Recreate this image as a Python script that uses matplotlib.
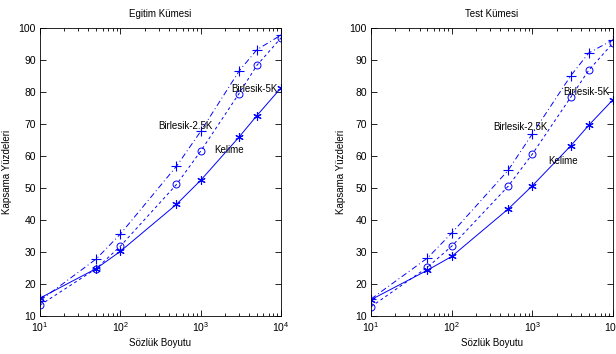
import matplotlib
matplotlib.use("Agg")
import matplotlib.pyplot as plt
from matplotlib.ticker import LogLocator, FixedLocator

plt.rcParams['font.family'] = ['Liberation Sans', 'DejaVu Sans']
plt.rcParams['mathtext.fontset'] = 'custom'
plt.rcParams['mathtext.rm'] = 'Liberation Sans'
plt.rcParams['mathtext.it'] = 'Liberation Sans'

sizes = [10, 50, 100, 500, 1000, 3000, 5000, 10000]

train_kelime = [15.6, 24.8, 30.2, 44.9, 52.4, 65.9, 72.6, 81.3]
train_b25 = [14.8, 27.8, 35.6, 56.8, 67.7, 86.5, 93.2, 97.8]
train_b5 = [13.4, 24.8, 31.8, 51.1, 61.5, 79.5, 88.3, 96.9]

test_kelime = [15.1, 24.3, 28.6, 43.4, 50.7, 63.2, 69.6, 77.6]
test_b25 = [15.3, 28.1, 35.9, 55.5, 66.9, 85.1, 92.2, 96.3]
test_b5 = [12.9, 25.2, 31.8, 50.5, 60.6, 78.4, 86.8, 95.3]

titles = ["Egitim Kümesi", "Test Kümesi"]
xlabel = "Sözlük Boyutu"
ylabel = "Kapsama Yüzdeleri"
label_texts = ["Birlesik-5K", "Birlesik-2.5K", "Kelime"]
label_pos_train = [(2390, 81.0), (300, 69.5), (1480, 61.8)]
label_pos_test = [(2420, 79.9), (328, 69.0), (1596, 58.3)]

blue = '#0000ff'
fig = plt.figure(figsize=(6.16, 3.54), dpi=100)
ax1 = fig.add_axes([40/616, 1-316/354, 241/616, 288/354])
ax2 = fig.add_axes([371/616, 1-316/354, 242/616, 288/354])

asterisk = (6, 2, 0)
for ax, title, k, b25, b5, lpos, ylx in [
        (ax1, titles[0], train_kelime, train_b25, train_b5, label_pos_train, -0.115),
        (ax2, titles[1], test_kelime, test_b25, test_b5, label_pos_test, -0.105)]:
    ax.plot(sizes, k, '-', color=blue, lw=0.7, marker=asterisk, ms=6, mew=0.8)
    ax.plot(sizes, b25, color=blue, lw=0.7, linestyle=(0, (6, 3, 1, 3)), marker='+', ms=7, mew=0.8)
    ax.plot(sizes, b5, color=blue, lw=0.7, linestyle=(0, (3, 3)), marker='o', ms=5, mew=0.7,
            mfc='none')
    ax.set_xscale('log')
    ax.set_xlim(10, 10000)
    ax.set_ylim(10, 100)
    ax.yaxis.set_major_locator(FixedLocator(list(range(10, 101, 10))))
    ax.xaxis.set_major_locator(LogLocator(base=10, numticks=10))
    ax.xaxis.set_minor_locator(LogLocator(base=10, subs=range(2, 10), numticks=20))
    ax.tick_params(which='both', direction='in', top=True, right=True, labelsize=7.5,
                   width=0.6, pad=3)
    ax.tick_params(which='major', length=4)
    ax.tick_params(which='minor', length=2)
    for s in ax.spines.values():
        s.set_linewidth(0.6)
    ax.set_title(title, fontsize=7, pad=8)
    ax.set_xlabel(xlabel, fontsize=7, labelpad=3)
    ax.set_ylabel(ylabel, fontsize=7)
    ax.yaxis.set_label_coords(ylx, 0.5)
    for txt, (x, y) in zip(label_texts, lpos):
        ax.text(x, y, txt, fontsize=7, va='center', ha='left')

fig.savefig('out.png', dpi=100)
